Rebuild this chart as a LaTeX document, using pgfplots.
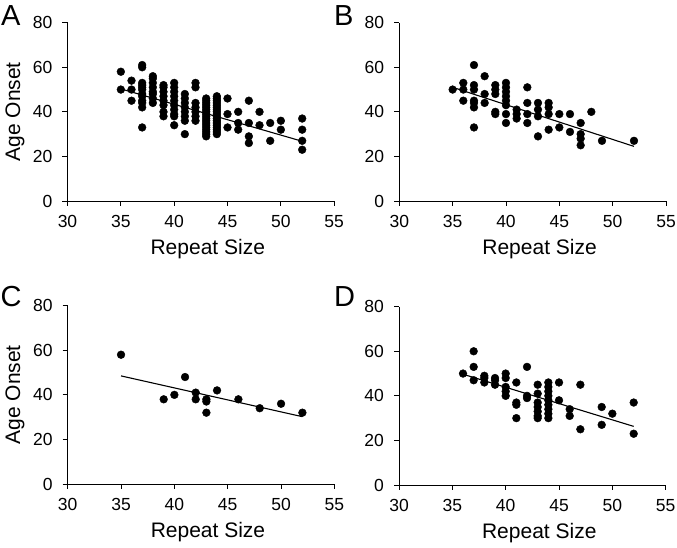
\documentclass[border=0pt]{standalone}
\usepackage{pgfplots}
\pgfplotsset{compat=1.18}
\usepackage{fontspec}
\setmainfont{Liberation Sans}

\pgfplotsset{
  panel/.style={
    scale only axis, width=266.7pt, height=178.3pt,
    xmin=30, xmax=55, ymin=0, ymax=80,
    xtick={30,35,40,45,50,55}, ytick={0,20,40,60,80},
    axis x line*=bottom, axis y line*=left,
    axis line style={-, line width=0.9pt, black},
    tick align=outside, major tick length=5pt,
    tick style={black, line width=0.9pt},
    tick label style={font=\fontsize{17.5}{20}\selectfont},
    xticklabel style={anchor=north, inner sep=0pt, yshift=-9pt},
    yticklabel style={anchor=east, inner sep=0pt, xshift=-10pt},
    /pgf/number format/assume math mode=true,
    xlabel={Repeat Size},
    xlabel style={at={(axis description cs:0.526,0)}, anchor=base, yshift=-54pt, font=\fontsize{21}{25}\selectfont},
    clip=false,
  },
  dots/.style={only marks, mark=*, mark size=3.9pt, mark options={fill=black, draw=black}},
  fitline/.style={black, line width=1.1pt, no marks},
}

\begin{document}
\begin{tikzpicture}
% Panel A
\begin{axis}[panel, at={(67.5pt,347pt)}, anchor=south west]
\addplot[dots] table {
x y
35 58
35 50
36 54
36 50
36 45
37 61
37 60
37 53
37 52
37 51
37 50
37 48
37 47
37 45
37 44
37 42
37 33
38 56
38 55
38 53
38 51
38 49
38 48
38 46
38 44
39 52
39 51
39 49
39 47
39 45
39 43
39 40
39 38
40 53
40 51
40 49
40 47
40 45
40 43
40 41
40 39
40 38
40 34
41 48
41 46
41 44
41 42
41 40
41 38
41 36
41 30
42 53
42 51
42 44
42 42
42 40
42 38
42 36
43 46
43 45
43 44
43 43
43 42
43 41
43 40
43 39
43 38
43 37
43 36
43 35
43 34
43 33
43 32
43 31
43 30
43 29
44 47
44 46
44 45
44 44
44 43
44 42
44 41
44 40
44 39
44 38
44 37
44 36
44 35
44 34
44 33
44 32
44 31
44 30
45 46
45 39
45 33
46 40
46 35
46 32
47 45
47 35
47 29
47 26
48 40
48 34
49 35
49 27
50 36
50 32
52 37
52 32
52 27
52 23
};
\addplot[fitline] coordinates {(35,50.3) (52,26.8)};
\end{axis}
% Panel B
\begin{axis}[panel, at={(399.3pt,347pt)}, anchor=south west]
\addplot[dots] table {
x y
35 50
36 53
36 50
36 45
37 61
37 52
37 50
37 45
37 44
37 42
37 33
38 56
38 48
38 44
39 52
39 50
39 48
39 40
39 39
40 53
40 51
40 49
40 47
40 45
40 43
40 39
40 35
41 41
41 39
41 37
42 51
42 44
42 39
42 35
43 44
43 41
43 38
43 29
44 44
44 42
44 39
44 32
45 39
45 33
46 39
46 31
47 35
47 30
47 28
47 25
48 40
49 27
52 27
};
\addplot[fitline] coordinates {(35,51) (52,24.5)};
\end{axis}
% Panel C
\begin{axis}[panel, at={(67.7pt,64pt)}, anchor=south west]
\addplot[dots] table {
x y
35 58
39 38
40 40
41 48
42 41
42 38
43 38
43 37
43 32
44 42
46 38
48 34
50 36
52 32
};
\addplot[fitline] coordinates {(35,48.5) (52,30.2)};
\end{axis}
% Panel D
\begin{axis}[panel, at={(399pt,63pt)}, anchor=south west]
\addplot[dots] table {
x y
36 50
37 60
37 53
37 47
38 49
38 48
38 46
39 48
39 47
39 45
40 50
40 48
40 44
40 42
40 40
41 46
41 37
41 36
41 30
42 53
42 40
42 39
43 45
43 41
43 37
43 35
43 33
43 31
43 30
44 46
44 44
44 42
44 40
44 38
44 36
44 34
44 32
44 30
45 46
45 38
46 34
46 31
47 45
47 25
49 35
49 27
50 32
52 37
52 23
};
\addplot[fitline] coordinates {(36,49.7) (52,26.3)};
\end{axis}
% y labels
\node[rotate=90, anchor=base, font=\fontsize{21}{25}\selectfont] at (20pt,436.2pt) {Age Onset};
\node[rotate=90, anchor=base, font=\fontsize{21}{25}\selectfont] at (20pt,153.2pt) {Age Onset};
% panel letters
\node[anchor=base west, inner sep=0pt, font=\fontsize{29}{32}\selectfont] at (1pt,522pt) {A};
\node[anchor=base west, inner sep=0pt, font=\fontsize{29}{32}\selectfont] at (334pt,522pt) {B};
\node[anchor=base west, inner sep=0pt, font=\fontsize{29}{32}\selectfont] at (0.5pt,241.5pt) {C};
\node[anchor=base west, inner sep=0pt, font=\fontsize{29}{32}\selectfont] at (334pt,241.5pt) {D};
\pgfresetboundingbox
\path (0,0) rectangle (677pt,548pt);
\end{tikzpicture}
\end{document}
